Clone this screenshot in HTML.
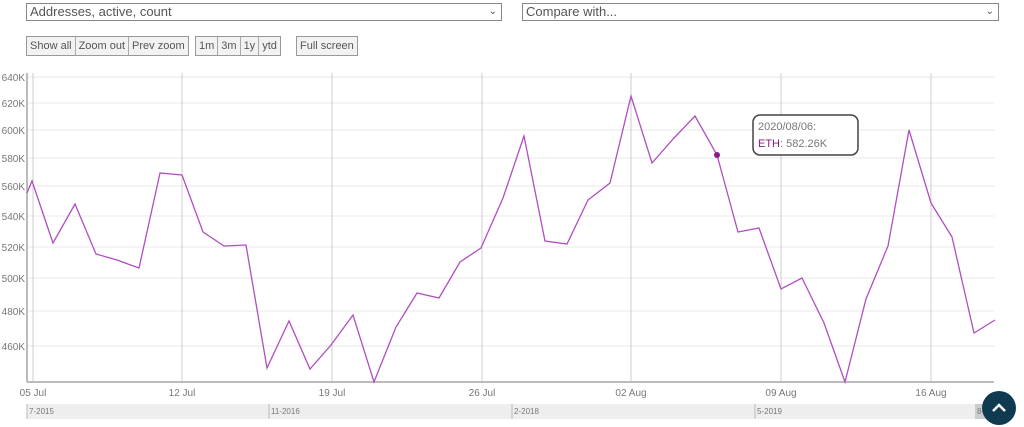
<!DOCTYPE html>
<html><head><style>
body{margin:0;width:1024px;height:427px;background:#fff;font-family:"Liberation Sans",sans-serif;overflow:hidden;position:relative}
.sel{position:absolute;top:3px;height:16px;border:1px solid #888;background:#fff;font-size:13px;color:#555;line-height:16px;padding-left:3px;box-sizing:content-box}
.btn{position:absolute;top:36px;height:18px;border:1px solid #999;background:#f2f2f2;font-size:11px;color:#555;line-height:18px;display:flex}
.btn span{padding:0 3px;border-right:1px solid #aaa}
.btn span:last-child{border-right:none}
</style></head><body>
<div class="sel" style="left:26px;width:471px">Addresses, active, count<span style="position:absolute;right:4px;top:0;font-size:10px">&#8964;</span></div>
<div class="sel" style="left:522px;width:472px">Compare with...<span style="position:absolute;right:4px;top:0;font-size:10px">&#8964;</span></div>
<div class="btn" style="left:26px"><span>Show all</span><span>Zoom out</span><span>Prev zoom</span></div>
<div class="btn" style="left:195px"><span>1m</span><span>3m</span><span>1y</span><span>ytd</span></div>
<div class="btn" style="left:296px"><span>Full screen</span></div>
<svg width="1024" height="427" style="position:absolute;left:0;top:0" font-family="Liberation Sans, sans-serif">
<g stroke="#e8e8e8" stroke-width="1">
<line x1="27" x2="994" y1="77" y2="77"/><line x1="27" x2="994" y1="103" y2="103"/><line x1="27" x2="994" y1="130" y2="130"/><line x1="27" x2="994" y1="158" y2="158"/><line x1="27" x2="994" y1="186" y2="186"/><line x1="27" x2="994" y1="216" y2="216"/><line x1="27" x2="994" y1="247" y2="247"/><line x1="27" x2="994" y1="278" y2="278"/><line x1="27" x2="994" y1="311" y2="311"/><line x1="27" x2="994" y1="346" y2="346"/>
</g>
<g stroke="#ccc" stroke-width="1">
<line x1="33" x2="33" y1="73" y2="382"/><line x1="182" x2="182" y1="73" y2="382"/><line x1="332" x2="332" y1="73" y2="382"/><line x1="482" x2="482" y1="73" y2="382"/><line x1="631" x2="631" y1="73" y2="382"/><line x1="781" x2="781" y1="73" y2="382"/><line x1="931" x2="931" y1="73" y2="382"/>
</g>
<line x1="27" x2="27" y1="73" y2="382" stroke="#bbb" stroke-width="2"/>
<line x1="27" x2="994" y1="382" y2="382" stroke="#bbb" stroke-width="2"/>
<g font-size="10" fill="#777" text-anchor="end">
<text x="25" y="81">640K</text><text x="25" y="107">620K</text><text x="25" y="134">600K</text><text x="25" y="162">580K</text><text x="25" y="190">560K</text><text x="25" y="220">540K</text><text x="25" y="251">520K</text><text x="25" y="282">500K</text><text x="25" y="315">480K</text><text x="25" y="350">460K</text>
</g>
<g font-size="10" fill="#777" text-anchor="middle">
<text x="33" y="396">05 Jul</text><text x="182" y="396">12 Jul</text><text x="332" y="396">19 Jul</text><text x="482" y="396">26 Jul</text><text x="631" y="396">02 Aug</text><text x="781" y="396">09 Aug</text><text x="931" y="396">16 Aug</text>
</g>
<polyline fill="none" stroke="#b04ec0" stroke-width="1.3" points="27,193 32,181 53,243 75,204 96,254 117,260 139,268 160,173 182,175 203,232 224,246 246,245 267,368 289,321 310,369 331,345 353,315 374,382 396,327 417,293 439,298 460,262 481,248 503,198 524,136 545,241 567,244 588,200 610,183 631,96 652,163 674,138 695,116 717,155 738,232 759,228 781,289 802,278 824,323 845,382 866,299 888,246 909,130 931,203 952,237 974,333 995,320"/>
<circle cx="717" cy="155" r="3" fill="#8a1a8a"/>
<rect x="27" y="404" width="967" height="15" fill="#eee"/>
<rect x="975" y="404" width="19" height="15" fill="#ccc"/>
<g stroke="#bbb"><line x1="27" x2="27" y1="404" y2="419"/><line x1="269" x2="269" y1="404" y2="419"/><line x1="512" x2="512" y1="404" y2="419"/><line x1="755" x2="755" y1="404" y2="419"/></g>
<g font-size="8" fill="#777"><text x="29" y="414">7-2015</text><text x="271" y="414">11-2016</text><text x="514" y="414">2-2018</text><text x="757" y="414">5-2019</text><text x="977" y="414">8-</text></g>
<rect x="753" y="115" width="105" height="40" rx="7" fill="#fff" stroke="#444" stroke-width="1.5"/>
<text x="758" y="130" font-size="11" fill="#777">2020/08/06:</text>
<text x="758" y="147" font-size="11" fill="#777"><tspan fill="#8a1a8a">ETH</tspan>: 582.26K</text>
<circle cx="999" cy="408" r="17" fill="#0f3a4f"/>
<path d="M993,411 L999,405 L1005,411" stroke="#fff" stroke-width="2.5" fill="none"/>
</svg>
</body></html>
